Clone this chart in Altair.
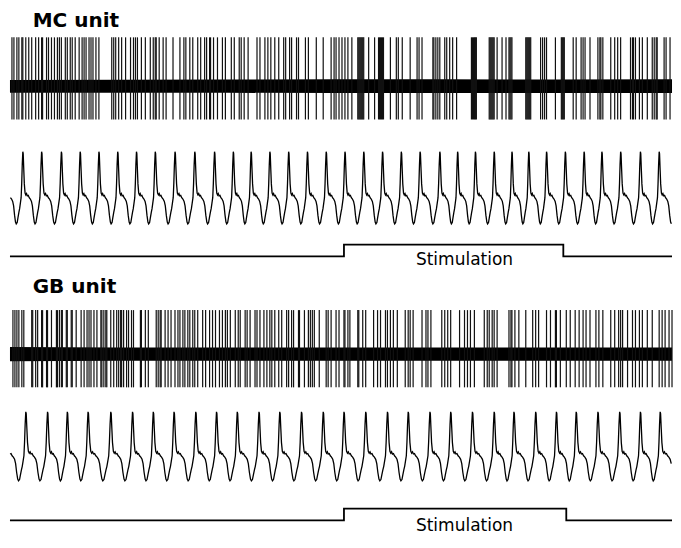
import altair as alt
import pandas as pd

# ---------------- data (time axis in recording units) ----------------
mc_spike_t = [12, 14, 17, 19, 22, 23, 26, 29, 32, 36, 39, 42, 43, 47, 49, 52, 55, 58, 60, 62, 66, 68,
              71, 73, 76, 80, 83, 85, 87, 90, 92, 94, 97, 100, 113, 115, 117, 120, 123, 127, 132, 135,
              137, 139, 143, 147, 152, 155, 157, 158, 161, 165, 168, 175, 182, 186, 188, 192, 195, 200,
              203, 207, 209, 212, 213, 216, 220, 225, 228, 234, 237, 242, 244, 247, 251, 260, 263, 268,
              271, 274, 278, 282, 287, 289, 293, 295, 300, 302, 309, 312, 320, 327, 335, 338, 340, 343,
              346, 349, 352, 356, 362, 363, 364, 365, 366, 367, 368, 373, 379, 383, 384, 385, 386, 387,
              388, 395, 401, 403, 407, 415, 422, 424, 427, 438, 439, 441, 443, 445, 450, 452, 455, 458,
              462, 477, 478, 479, 480, 481, 482, 495, 496, 497, 498, 499, 500, 503, 508, 512, 515, 516,
              517, 518, 532, 533, 534, 535, 536, 537, 547, 549, 551, 553, 562, 568, 569, 570, 571, 580,
              583, 588, 590, 592, 597, 605, 607, 608, 610, 618, 622, 625, 628, 638, 640, 641, 643, 647,
              650, 655, 660, 662, 664, 665, 672, 674, 678]
gb_spike_t = [13, 15, 17, 19, 22, 24, 32, 33, 36, 38, 42, 43, 47, 48, 52, 57, 58, 60, 62, 63, 67, 68,
              72, 73, 77, 82, 85, 88, 90, 92, 95, 98, 102, 103, 105, 107, 108, 112, 115, 118, 120, 122,
              123, 125, 128, 130, 133, 135, 142, 143, 147, 150, 158, 160, 162, 163, 167, 170, 173, 177,
              180, 182, 185, 187, 190, 192, 195, 197, 200, 205, 208, 212, 215, 218, 222, 225, 228, 230,
              233, 238, 241, 243, 248, 250, 253, 258, 260, 263, 267, 270, 273, 275, 278, 282, 285, 290,
              292, 295, 297, 302, 303, 308, 312, 314, 316, 318, 323, 330, 332, 335, 340, 343, 348, 349,
              352, 354, 362, 363, 367, 370, 378, 382, 385, 390, 392, 395, 398, 402, 410, 413, 415, 418,
              427, 431, 433, 436, 447, 450, 453, 456, 465, 470, 473, 476, 480, 490, 493, 495, 498, 500,
              503, 515, 517, 518, 521, 525, 532, 539, 542, 545, 553, 557, 562, 563, 567, 573, 577, 582,
              586, 590, 593, 597, 603, 606, 610, 618, 622, 626, 628, 630, 635, 640, 643, 647, 650, 655,
              660, 667, 670, 673, 677, 680]

# spike amplitudes (µV) and background noise envelope
mc_spike_up, mc_spike_down = 200, -136
gb_spike_up, gb_spike_down = 180, -136
noise_t = [10, 120, 230, 340, 450, 560, 680]
mc_noise_hi = [25, 26, 27, 28, 28, 27, 28]
mc_noise_lo = [-27, -27, -27, -28, -28, -28, -28]
gb_noise_hi = [29, 27, 27, 27, 27, 27, 27]
gb_noise_lo = [-29, -27, -27, -27, -27, -27, -27]

# respiration: inspiratory peak times and one cycle shape (phase relative to peak, normalised value)
mc_resp_peaks = [4, 23, 42, 62, 81, 100, 119, 138, 157, 177, 197, 217, 236, 254, 273, 292, 311, 330,
                 349, 368, 387, 406, 425, 445, 463, 481, 500, 518, 535, 553, 572, 591, 609, 628, 648,
                 667, 686]
gb_resp_peaks = [5, 26, 48, 68, 89, 112, 134, 155, 176, 198, 219, 240, 262, 283, 305, 327, 348, 370,
                 392, 413, 435, 456, 478, 500, 520, 542, 563, 583, 605, 627, 648, 668, 690]
resp_phase = [-0.35, -0.30, -0.26, -0.21, -0.17, -0.13, -0.09, -0.06, -0.03, 0.0, 0.02, 0.05, 0.08,
              0.12, 0.16, 0.20, 0.24, 0.29, 0.34, 0.40, 0.46, 0.51, 0.56, 0.61]
resp_shape = [-0.57, -0.54, -0.44, -0.32, -0.24, -0.12, 0.0, 0.30, 0.72, 1.0, 0.96, 0.62, 0.30,
              0.10, 0.06, 0.09, 0.04, 0.05, 0.0, -0.03, -0.08, -0.18, -0.38, -0.53]

# stimulation marker
mc_stim_t = [10, 348, 348, 570, 570, 680]
mc_stim_level = [0, 0, 1, 1, 0, 0]
gb_stim_t = [10, 348, 348, 573, 573, 680]
gb_stim_level = [0, 0, 1, 1, 0, 0]

unit_names = ["MC unit", "GB unit"]
stim_label = "Stimulation"

# ---------------- layout ----------------
W, H = 665, 526
T0, T1 = 10, 680
XDOM = [8, 681]


def ydom(base, k):
    return [(base - 548) / k, (base - 10) / k]


x_enc = alt.X("t:Q", scale=alt.Scale(domain=XDOM, nice=False, zero=False), axis=None)


def Y(field, dom):
    return alt.Y(f"{field}:Q", scale=alt.Scale(domain=dom, nice=False, zero=False), axis=None)


def resp_frame(peaks):
    rows = []
    for i, p in enumerate(peaks):
        prev_p = p - peaks[i - 1] if i > 0 else peaks[1] - peaks[0]
        next_p = peaks[i + 1] - p if i < len(peaks) - 1 else p - peaks[i - 1]
        for ph, v in zip(resp_phase, resp_shape):
            t = p + ph * (prev_p if ph < 0 else next_p)
            if T0 <= t <= T1:
                rows.append((t, v))
    return pd.DataFrame(rows, columns=["t", "v"]).sort_values("t")


def spike_block(spike_t, up, down, n_hi, n_lo, name, title_y, dom):
    noise = pd.DataFrame({"t": noise_t, "hi": n_hi, "lo": n_lo})
    spikes = pd.DataFrame({"t": spike_t, "top": [up] * len(spike_t), "bot": [down] * len(spike_t)})
    title = pd.DataFrame({"t": [33], "y": [title_y], "label": [name]})
    return alt.layer(
        alt.Chart(noise).mark_area(color="#000000").encode(x=x_enc, y=Y("hi", dom), y2="lo:Q"),
        alt.Chart(spikes).mark_rule(color="#111111", strokeWidth=1.2).encode(
            x=x_enc, y=Y("top", dom), y2="bot:Q"),
        alt.Chart(title).mark_text(align="left", baseline="alphabetic", font="DejaVu Sans",
                                   fontSize=20, fontWeight="bold", color="#000000").encode(
            x=x_enc, y=Y("y", dom), text="label:N"),
    )


def resp_block(peaks, dom):
    return alt.Chart(resp_frame(peaks)).mark_line(color="#000000", strokeWidth=1.3).encode(
        x=x_enc, y=Y("v", dom))


def stim_block(st, lv, text_y, dom):
    line = pd.DataFrame({"t": st, "v": lv, "i": list(range(len(st)))})
    lab = pd.DataFrame({"t": [470], "v": [text_y], "label": [stim_label]})
    return alt.layer(
        alt.Chart(line).mark_line(color="#000000", strokeWidth=1.8).encode(
            x=x_enc, y=Y("v", dom), order="i:Q"),
        alt.Chart(lab).mark_text(align="center", baseline="middle", font="DejaVu Sans",
                                 fontSize=17, color="#000000").encode(
            x=x_enc, y=Y("v", dom), text="label:N"),
    )


chart = alt.layer(
    spike_block(mc_spike_t, mc_spike_up, mc_spike_down, mc_noise_hi, mc_noise_lo,
                unit_names[0], 242, ydom(90, 0.25)),
    resp_block(mc_resp_peaks, ydom(204, 47)),
    stim_block(mc_stim_t, mc_stim_level, -0.3, ydom(264, 12)),
    spike_block(gb_spike_t, gb_spike_up, gb_spike_down, gb_noise_hi, gb_noise_lo,
                unit_names[1], 250, ydom(364, 0.25)),
    resp_block(gb_resp_peaks, ydom(468, 45)),
    stim_block(gb_stim_t, gb_stim_level, -0.5, ydom(534, 12)),
).resolve_scale(y="independent").properties(
    width=W, height=H, padding=0, autosize=alt.AutoSizeParams(type="none")
).configure_view(stroke=None)

chart.save("out.html", embed_options={"renderer": "svg", "actions": False})
